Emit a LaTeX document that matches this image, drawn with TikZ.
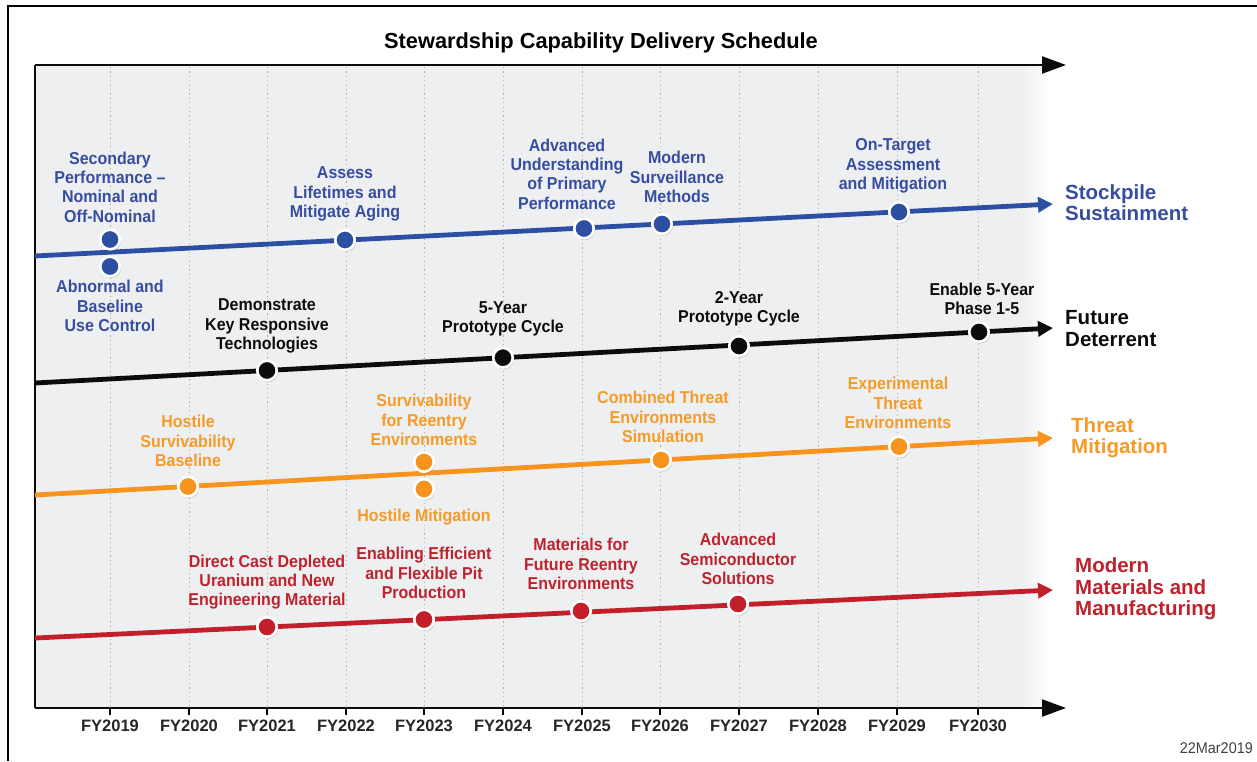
\documentclass[tikz,border=0pt]{standalone}
\usepackage{fontspec}
\setmainfont{Liberation Sans}
\newfontfamily\condfont[FakeStretch=0.93]{Liberation Sans}
\usetikzlibrary{arrows.meta,shadows,calc}
\definecolor{sblue}{RGB}{44,78,163}
\definecolor{tblue}{RGB}{55,78,160}
\definecolor{sorange}{RGB}{246,148,30}
\definecolor{torange}{RGB}{244,155,40}
\definecolor{sred}{RGB}{193,32,42}
\definecolor{tred}{RGB}{190,35,45}
\definecolor{sblack}{RGB}{12,12,12}
\definecolor{panelgray}{RGB}{238,239,241}
\definecolor{gridgray}{RGB}{175,175,180}
\begin{document}
\begin{tikzpicture}[x=1pt,y=-1pt,
  lbl/.style={align=center, inner sep=0pt, font=\condfont\bfseries\fontsize{17.2}{19.3}\selectfont},
  cat/.style={align=left, anchor=west, inner sep=0pt, font=\bfseries\fontsize{20.5}{21.3}\selectfont},
  fy/.style={inner sep=0pt, font=\bfseries\fontsize{16.5}{18}\selectfont, text=black!85},
  trend/.style={line width=4.8pt, -{Triangle[length=15pt,width=15pt]}},
  axisline/.style={line width=2.2pt, draw=sblack},
  dotmark/.style={circle, inner sep=0pt, minimum size=19.5pt, draw=white, line width=2.6pt,
    drop shadow={opacity=0.3, shadow xshift=1.2pt, shadow yshift=-2pt}},
  bdot/.style={dotmark, fill=sblue},
  kdot/.style={dotmark, fill=sblack},
  odot/.style={dotmark, fill=sorange},
  rdot/.style={dotmark, fill=sred},
  grid/.style={draw=gridgray, line width=0.9pt, dash pattern=on 1.2pt off 3.2pt}
]
\useasboundingbox (0,0) rectangle (1257,761);
\fill[white] (0,0) rectangle (1257,761);
% outer frame
\draw[line width=2pt, black] (8,761) -- (8,5.5) -- (1257,5.5);
% panel
\fill[panelgray] (35,65) rectangle (1020,708);
\shade[left color=panelgray, right color=white] (1019,65) rectangle (1052,708);
% grid lines and ticks
\foreach \i/\xx in {2019/110,2020/189,2021/267,2022/346,2023/424,2024/503,2025/582,2026/660,2027/739,2028/818,2029/897,2030/978}{
  \draw[grid] (\xx,67) -- (\xx,706);
  \draw[line width=1.4pt] (\xx,708) -- (\xx,715);
  \node[fy] (fy\i) at (\xx,726) {FY\i};
}
% axes
\coordinate (tl) at (35,65);
\coordinate (tr) at (1066,65);
\coordinate (bl) at (35,708);
\coordinate (br) at (1066,708);
\draw[axisline, -{Triangle[length=24pt,width=17pt]}] (tl) -- (tr);
\draw[axisline, -{Triangle[length=24pt,width=17pt]}] (bl) -- (br);
\draw[axisline] (tl) -- (bl);
% title
\node[font=\bfseries\fontsize{21.8}{25}\selectfont, inner sep=0pt] (title) at (601,43) {Stewardship Capability Delivery Schedule};
% trend lines
\coordinate (bS) at (35,256);  \coordinate (bE) at (1053,204);
\coordinate (kS) at (35,383);  \coordinate (kE) at (1053,328);
\coordinate (oS) at (35,495);  \coordinate (oE) at (1053,438);
\coordinate (rS) at (35,638);  \coordinate (rE) at (1053,590);
\draw[trend, sblue] (bS) -- (bE);
\draw[trend, sblack] (kS) -- (kE);
\draw[trend, sorange] (oS) -- (oE);
\draw[trend, sred] (rS) -- (rE);
% dots
\node[bdot] (b19a) at (110,239.5) {};
\node[bdot] (b19b) at (110,266.5) {};
\node[bdot] (b22) at (345,240) {};
\node[bdot] (b25) at (584,228.5) {};
\node[bdot] (b26) at (662,224) {};
\node[bdot] (b29) at (899,212) {};
\node[kdot] (k21) at (267,370.5) {};
\node[kdot] (k24) at (503,357.7) {};
\node[kdot] (k27) at (739,346) {};
\node[kdot] (k30) at (979,332) {};
\node[odot] (o20) at (188,486.5) {};
\node[odot] (o23a) at (424,462) {};
\node[odot] (o23b) at (424,489) {};
\node[odot] (o26) at (661,460) {};
\node[odot] (o29) at (899,446.5) {};
\node[rdot] (r21) at (267,627) {};
\node[rdot] (r23) at (424,619.5) {};
\node[rdot] (r25) at (581,611) {};
\node[rdot] (r27) at (738,604) {};
% blue labels
\node[lbl, text=tblue] (lb1) at (110,187) {Secondary\\Performance –\\Nominal and\\Off-Nominal};
\node[lbl, text=tblue] (lb2) at (110,306) {Abnormal and\\Baseline\\Use Control};
\node[lbl, text=tblue] (lb3) at (345,194) {Assess\\Lifetimes and\\Mitigate Aging};
\node[lbl, text=tblue] (lb4) at (567,174) {Advanced\\Understanding\\of Primary\\Performance};
\node[lbl, text=tblue] (lb5) at (677,177) {Modern\\Surveillance\\Methods};
\node[lbl, text=tblue] (lb6) at (893,166) {On-Target\\Assessment\\and Mitigation};
% black labels
\node[lbl, text=sblack] (lk1) at (267,326) {Demonstrate\\Key Responsive\\Technologies};
\node[lbl, text=sblack] (lk2) at (503,319) {5-Year\\Prototype Cycle};
\node[lbl, text=sblack] (lk3) at (739,309) {2-Year\\Prototype Cycle};
\node[lbl, text=sblack] (lk4) at (982,299) {Enable 5-Year\\Phase 1-5};
% orange labels
\node[lbl, text=torange] (lo1) at (188,441) {Hostile\\Survivability\\Baseline};
\node[lbl, text=torange] (lo2) at (424,420) {Survivability\\for Reentry\\Environments};
\node[lbl, text=torange] (lo3) at (424,517) {Hostile Mitigation};
\node[lbl, text=torange] (lo4) at (663,417) {Combined Threat\\Environments\\Simulation};
\node[lbl, text=torange] (lo5) at (898,403) {Experimental\\Threat\\Environments};
% red labels
\node[lbl, text=tred] (lr1) at (267,582) {Direct Cast Depleted\\Uranium and New\\Engineering Material};
\node[lbl, text=tred] (lr2) at (424,573) {Enabling Efficient\\and Flexible Pit\\Production};
\node[lbl, text=tred] (lr3) at (581,564) {Materials for\\Future Reentry\\Environments};
\node[lbl, text=tred] (lr4) at (738,559) {Advanced\\Semiconductor\\Solutions};
% category labels
\node[cat, text=tblue] (cS) at (1065,203) {Stockpile\\Sustainment};
\node[cat, text=sblack] (cF) at (1065,328.5) {Future\\Deterrent};
\node[cat, text=torange] (cT) at (1071,437.5) {Threat\\Mitigation};
\node[cat, text=tred] (cM) at (1075,589) {Modern\\Materials and\\Manufacturing};
% date
\node[anchor=east, inner sep=0pt, font=\condfont\fontsize{15.5}{17}\selectfont, text=black!75] (date) at (1253,748) {22Mar2019};
\end{tikzpicture}
\end{document}
